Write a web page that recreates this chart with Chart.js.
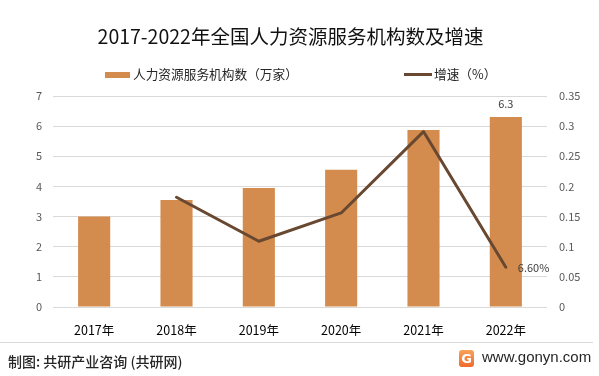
<!DOCTYPE html>
<html>
<head>
<meta charset="utf-8">
<script src="https://cdn.jsdelivr.net/npm/chart.js@4"></script>
<style>
  html, body { margin:0; padding:0; background:#fff; }
  #wrap { position:relative; width:599px; height:376px; overflow:hidden; font-family:"Noto Sans CJK SC","Noto Sans",sans-serif; }
  #c { position:absolute; left:0; top:0; }
  .t { position:absolute; white-space:nowrap; }
  #title { left:0; width:581px; top:22px; text-align:center; font-size:19.5px; color:#111; line-height:28px; }
  .lg { position:absolute; top:66px; font-size:12.7px; color:#262626; line-height:16px; }
  #sep { position:absolute; left:0; top:342px; width:593px; height:1px; background:#d9d9d9; }
  #src { left:8px; top:351px; font-size:14px; color:#262626; font-weight:500; line-height:20px; }
  #logo { position:absolute; left:459px; top:350px; width:15px; height:17px; border-radius:3px; background:linear-gradient(180deg,#f7a35a,#ef6a2a); color:#fff; font:bold 13px "DejaVu Sans",sans-serif; text-align:center; line-height:17px; }
  #url { left:482px; top:347px; font-size:15px; color:#262626; font-family:"Liberation Sans","DejaVu Sans",sans-serif; line-height:20px; }
</style>
</head>
<body>
<div id="wrap">
  <canvas id="c" width="599" height="376"></canvas>
  <div class="t" id="title">2017-2022年全国人力资源服务机构数及增速</div>
  <div class="lg" style="left:105px;"><span style="display:inline-block;width:25px;height:6px;background:#D48C4E;vertical-align:middle;margin-right:3px;position:relative;top:-1px"></span>人力资源服务机构数（万家）</div>
  <div class="lg" style="left:404px;"><span style="display:inline-block;width:28px;height:3px;background:#684830;vertical-align:middle;margin-right:2px;position:relative;top:-1px"></span>增速（%）</div>
  <div id="sep"></div>
  <div class="t" id="src">制图: 共研产业咨询 (共研网)</div>
  <div id="logo">G</div>
  <div class="t" id="url">www.gonyn.com</div>
</div>
<script>
const categories = ['2017年','2018年','2019年','2020年','2021年','2022年'];
const institutions = [3.0, 3.55, 3.95, 4.55, 5.87, 6.3];
const growth = [null, 0.182, 0.109, 0.156, 0.291, 0.066];
const leftTicks = [0,1,2,3,4,5,6,7];
const rightTicks = [0,0.05,0.1,0.15,0.2,0.25,0.3,0.35];

const labelPlugin = {
  id: 'endLabels',
  afterDatasetsDraw(chart) {
    const ctx = chart.ctx;
    ctx.save();
    ctx.font = '11px "Noto Sans CJK SC", "Noto Sans", sans-serif';
    ctx.fillStyle = '#404040';
    const barMeta = chart.getDatasetMeta(1);
    const last = institutions.length - 1;
    const b = barMeta.data[last];
    ctx.textAlign = 'center';
    ctx.textBaseline = 'middle';
    ctx.fillText(String(institutions[last]), b.x, b.y - 13);
    const lineMeta = chart.getDatasetMeta(0);
    const p = lineMeta.data[last];
    ctx.textAlign = 'left';
    ctx.fillText((growth[last]*100).toFixed(2) + '%', p.x + 12, p.y + 1);
    ctx.restore();
  }
};

new Chart(document.getElementById('c'), {
  data: {
    labels: categories,
    datasets: [
      { type:'line', label:'增速（%）', data: growth, yAxisID:'y1', borderColor:'#684830', borderWidth:3,
        pointRadius:0, tension:0, order:0, spanGaps:false, borderCapStyle:'round', borderJoinStyle:'round' },
      { type:'bar', label:'人力资源服务机构数（万家）', data: institutions, yAxisID:'y', backgroundColor:'#D48C4E',
        barPercentage:0.39, categoryPercentage:1, order:1 }
    ]
  },
  options: {
    responsive:false, animation:false, devicePixelRatio:1,
    layout: { padding: { top:96, bottom:0, left:0, right:0 } },
    plugins: { legend:{display:false}, title:{display:false}, tooltip:{enabled:false} },
    scales: {
      x: {
        grid:{ display:false, drawTicks:false }, border:{display:false},
        ticks:{ color:'#000', font:{ size:12.5, family:'"Noto Sans CJK SC", sans-serif' }, padding:16 },
        afterFit(s){ s.height = 69; }
      },
      y: {
        position:'left', min:0, max:7,
        afterBuildTicks(s){ s.ticks = leftTicks.map(v=>({value:v})); },
        grid:{ color:'#d9d9d9', lineWidth:1, drawTicks:false }, border:{display:false},
        ticks:{ color:'#595959', font:{ size:11, family:'"Noto Sans CJK SC", sans-serif' }, padding:11 },
        afterFit(s){ s.width = 53; }
      },
      y1: {
        position:'right', min:0, max:0.35,
        afterBuildTicks(s){ s.ticks = rightTicks.map(v=>({value:v})); },
        grid:{ display:false, drawTicks:false }, border:{display:false},
        ticks:{ color:'#595959', font:{ size:11, family:'"Noto Sans CJK SC", sans-serif' }, padding:12,
          callback:(v)=> String(+v.toFixed(2)) },
        afterFit(s){ s.width = 52; }
      }
    }
  },
  plugins:[labelPlugin]
});
</script>
</body>
</html>
